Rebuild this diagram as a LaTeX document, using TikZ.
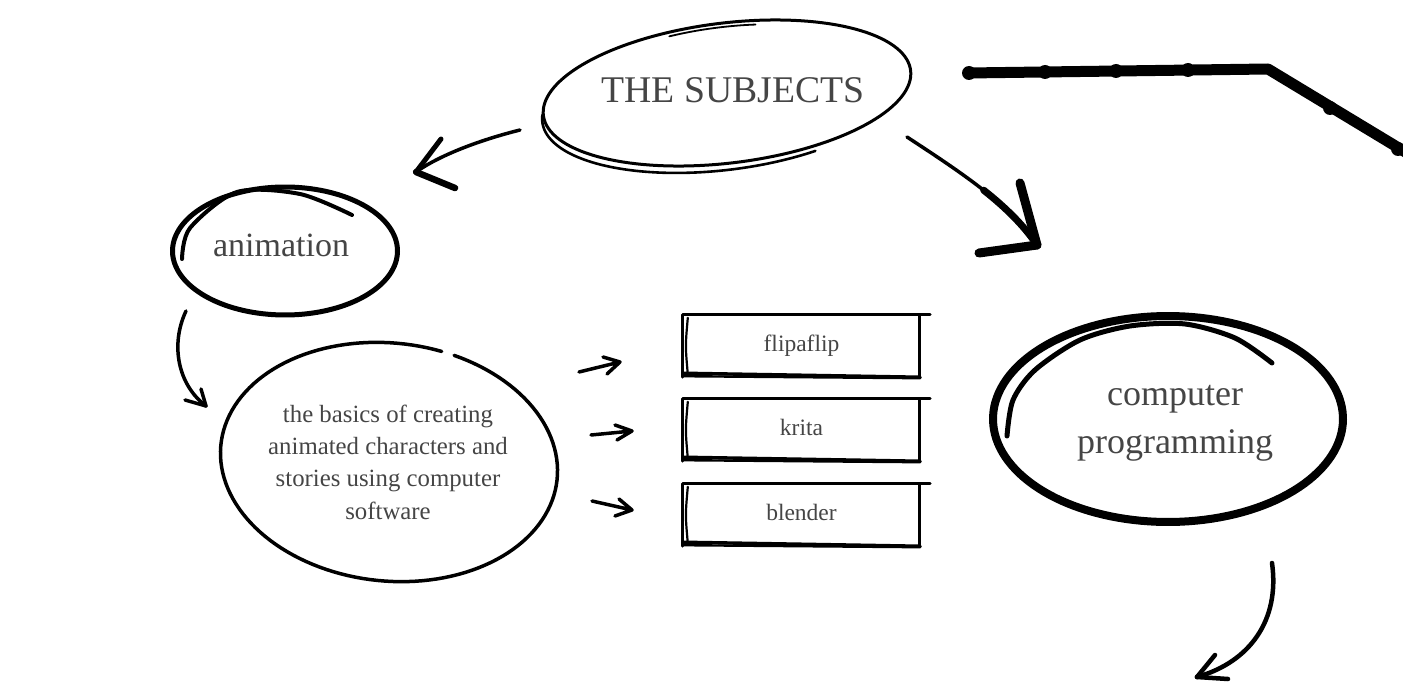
\documentclass[tikz,border=0pt]{standalone}
\usepackage{fontspec}
\setmainfont{Liberation Serif}
\definecolor{txtgray}{HTML}{454545}
\newcommand\ellpath[7]{plot[domain=#6:#7,samples=140,variable=\t]({#1+#3*cos(\t)*cos(#5)-#4*sin(\t)*sin(#5)},{#2+#3*cos(\t)*sin(#5)+#4*sin(\t)*cos(#5)})}
\begin{document}
\begin{tikzpicture}[x=1pt,y=-1pt,line cap=round,line join=round,
  lbl/.style={text=txtgray,inner sep=0pt,align=center},
  boxline/.style={draw=black,line width=3pt},
  boxnode/.style={lbl,minimum width=237pt,minimum height=62pt,font=\fontsize{23.5}{28}\selectfont,text height=16pt,text depth=5pt},
]
\useasboundingbox (0,0) rectangle (1403,695);

% ---------- nodes ----------
\node[lbl,font=\fontsize{37.7}{44}\selectfont] (subj) at (733,90) {THE SUBJECTS};
\node[lbl,font=\fontsize{34}{40}\selectfont,anchor=base] (anim) at (281,256) {animation};
\node[lbl,font=\fontsize{24.8}{32.4}\selectfont] (basics) at (388,462) {the basics of creating\\animated characters and\\stories using computer\\software};
\node[boxnode] (b1) at (801.5,346) {flipaflip};
\node[boxnode] (b2) at (801.5,430) {krita};
\node[boxnode] (b3) at (801.5,515) {blender};
\node[lbl,font=\fontsize{36}{48}\selectfont] (comp) at (1175,423) {computer\\programming};

% ---------- hand-drawn outlines ----------
% THE SUBJECTS
\draw[line width=3pt] \ellpath{727}{93}{185}{70}{-7}{0}{361};
\draw[line width=2.6pt] \ellpath{723}{100}{182}{70}{-7}{62}{186};
\draw[line width=1.8pt] \ellpath{727}{99}{180}{72}{-7}{254}{282};
% animation
\draw[line width=5pt] \ellpath{285}{251}{112.5}{64}{0}{0}{361};
\draw[line width=4pt] plot[smooth] coordinates {(182,259) (190,228) (237,192) (300,194) (352,215)};
% basics (gap at top)
\draw[line width=3.5pt] \ellpath{389}{462}{169}{119}{6}{288.5}{644};
% computer programming
\draw[line width=8pt] \ellpath{1168}{419}{175}{103}{0}{0}{361};
\draw[line width=5pt] plot[smooth] coordinates {(1007,436) (1013,400) (1035,370) (1080,340) (1130,326) (1185,324) (1235,338) (1272,363)};

% boxes
\foreach \b in {b1,b2,b3}{
  \draw[boxline] (\b.north west) -- ([xshift=10pt]\b.north east);
  \draw[boxline] (\b.north west) -- (\b.south west);
  \draw[boxline,line width=2.2pt] ([xshift=5pt,yshift=-3pt]\b.north west) .. controls ([xshift=2.5pt]\b.west) .. ([xshift=5pt,yshift=3pt]\b.south west);
  \draw[boxline] ([xshift=-1pt]\b.north east) -- ([xshift=-1pt,yshift=1pt]\b.south east);
  \draw[boxline,line width=3.4pt] ([yshift=4pt]\b.south west) -- (\b.south east);
  \draw[boxline,line width=2.4pt] ([yshift=1pt]\b.south west) -- ([yshift=-1pt]\b.south east);
}

% top-right thick stroke
\coordinate (tr1) at (968,73);
\coordinate (tr2) at (1268,69);
\coordinate (tr3) at (1412,156);
\draw[line width=11pt] (tr1) -- (tr2) -- (tr3);
\foreach \p in {(969,73),(1045,72),(1116,71),(1188,70),(1330,108),(1398,149)}
  \fill \p circle (7);

% ---------- connectors ----------
% THE SUBJECTS -> animation
\coordinate (aS) at (520,130);
\coordinate (aT) at (416,172);
\draw[line width=3.5pt] (aS) .. controls (480,140) and (440,155) .. (aT);
\draw[line width=5pt] (aT) -- (441,139);
\draw[line width=6.5pt] (aT) -- (455,188);

% THE SUBJECTS -> computer programming
\coordinate (bS) at (907,137);
\coordinate (bT) at (1037,245);
\draw[line width=3.5pt] (bS) .. controls (965,175) and (1010,205) .. (bT);
\draw[line width=7pt] (983.7,190.2) .. controls (1005.5,207.5) and (1023.5,225) .. (bT);
\draw[line width=9pt] (bT) -- (1020,183);
\draw[line width=9pt] (bT) -- (979,253);

% animation -> basics
\coordinate (cS) at (186,311);
\coordinate (cT) at (206,406);
\draw[line width=3.5pt] (cS) .. controls (170,345) and (178,385) .. (cT);
\draw[line width=3.5pt] (cT) -- (201,389);
\draw[line width=3.5pt] (cT) -- (185,400);

% basics -> boxes
\coordinate (d1S) at (579,372); \coordinate (d1T) at (620,362);
\coordinate (d2S) at (591,435); \coordinate (d2T) at (632,431);
\coordinate (d3S) at (592,501); \coordinate (d3T) at (632,510);
\draw[line width=3.5pt] (d1S) -- (d1T) (d1T) -- (603,357) (d1T) -- (607,374);
\draw[line width=3.5pt] (d2S) -- (d2T) (d2T) -- (615,425) (d2T) -- (617,440);
\draw[line width=3.5pt] (d3S) -- (d3T) (d3T) -- (619,499) (d3T) -- (615,516);

% computer programming -> down
\coordinate (eS) at (1272,563);
\coordinate (eT) at (1197,677);
\draw[line width=4.5pt] (eS) .. controls (1280,620) and (1250,662) .. (eT);
\draw[line width=4.5pt] (eT) -- (1215,655);
\draw[line width=4.5pt] (eT) -- (1228,679);
\end{tikzpicture}
\end{document}
